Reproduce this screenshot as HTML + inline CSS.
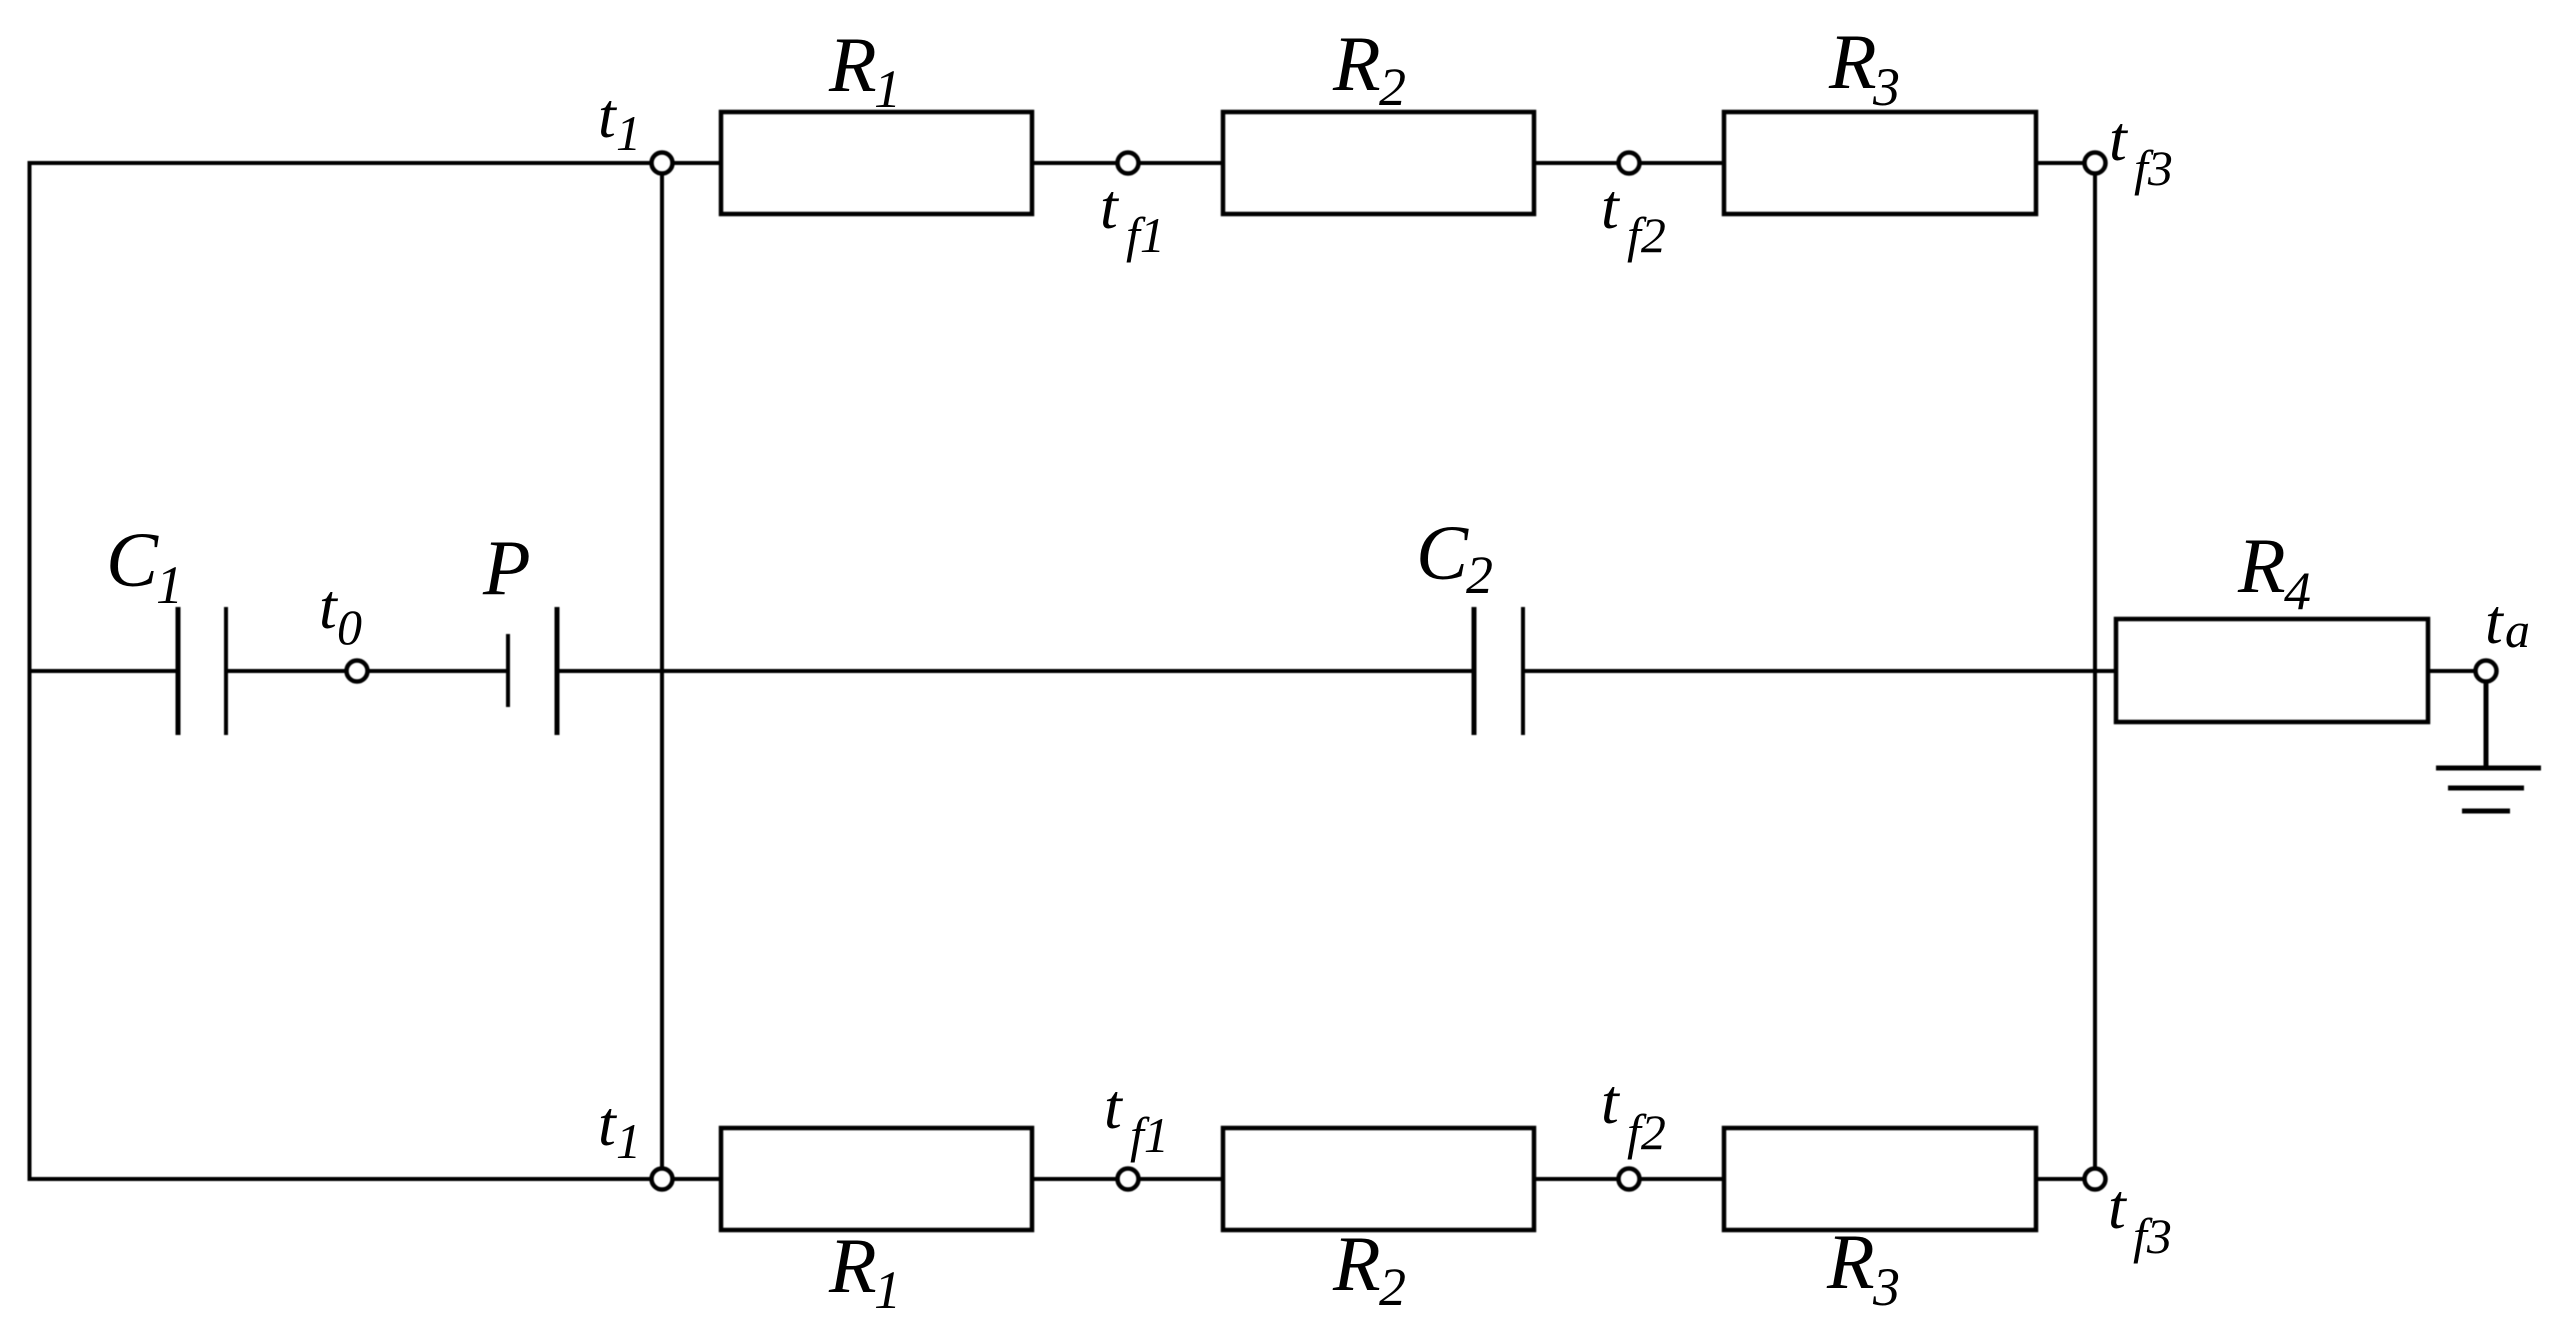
<!DOCTYPE html>
<html><head><meta charset="utf-8"><style>
html,body{margin:0;padding:0;background:#fff;width:2569px;height:1332px;overflow:hidden}
svg{display:block}
text{font-family:"Liberation Serif",serif;font-style:italic;fill:#000}
.m{font-size:78px}.t{font-size:64px}.s{font-size:54px}.u{font-size:50px}
</style></head><body>
<svg width="2569" height="1332" viewBox="0 0 2569 1332" xmlns="http://www.w3.org/2000/svg">
<rect width="2569" height="1332" fill="#fff"/>
<g stroke="#000" fill="none" stroke-width="4" style="filter:blur(0.6px)">
<path d="M662 163H29.5V1179H662M662 163V1179M2095 163V1179"/>
<path d="M662 163H721M1032 163H1223M1534 163H1724M2036 163H2095"/>
<path d="M662 1179H721M1032 1179H1223M1534 1179H1724M2036 1179H2095"/>
<path d="M29.5 671H178M226 671H508M557 671H1474M1523 671H2116M2428 671H2486"/>
<g stroke-width="4.5">
<rect x="721" y="112" width="311" height="102"/><rect x="1223" y="112" width="311" height="102"/><rect x="1724" y="112" width="312" height="102"/>
<rect x="721" y="1128" width="311" height="102"/><rect x="1223" y="1128" width="311" height="102"/><rect x="1724" y="1128" width="312" height="102"/>
<rect x="2116" y="619" width="312" height="103"/>
</g>
<path stroke-width="5" d="M178 607V735M557 607V735M1474 607V735"/>
<path stroke-width="4" d="M226 607V735M508 634V707M1523 607V735"/>
<path stroke-width="5" d="M2486 671V768M2436 768H2541M2448 788H2524M2462 811H2510"/>
<g fill="#fff" stroke-width="4.5">
<circle cx="662" cy="163" r="10.5"/><circle cx="1128" cy="163" r="10.5"/><circle cx="1629" cy="163" r="10.5"/><circle cx="2095" cy="163" r="10.5"/>
<circle cx="662" cy="1179" r="10.5"/><circle cx="1128" cy="1179" r="10.5"/><circle cx="1629" cy="1179" r="10.5"/><circle cx="2095" cy="1179" r="10.5"/>
<circle cx="357" cy="671" r="10.5"/><circle cx="2486" cy="671" r="10.5"/>
</g>
</g>
<text class="m" x="829" y="91">R</text><text class="s" x="874" y="107">1</text>
<text class="m" x="1333" y="90">R</text><text class="s" x="1379" y="105">2</text>
<text class="m" x="1829" y="88">R</text><text class="s" x="1873" y="105">3</text>
<text class="m" x="829" y="1292">R</text><text class="s" x="874" y="1308">1</text>
<text class="m" x="1333" y="1290">R</text><text class="s" x="1379" y="1305">2</text>
<text class="m" x="1827" y="1288">R</text><text class="s" x="1873" y="1305">3</text>
<text class="m" x="2238" y="592">R</text><text class="s" x="2284" y="609">4</text>
<text class="m" x="106" y="586">C</text><text class="s" x="156" y="603">1</text>
<text class="m" x="1416" y="579">C</text><text class="s" x="1466" y="593">2</text>
<text class="m" x="483" y="594">P</text>
<text class="t" x="598" y="137">t</text><text class="u" x="616" y="150">1</text>
<text class="t" x="598" y="1145">t</text><text class="u" x="616" y="1158">1</text>
<text class="t" x="319" y="628">t</text><text class="u" x="337" y="644">0</text>
<text class="t" x="2485" y="643">t</text><text class="u" x="2505" y="647">a</text>
<text class="t" x="1100" y="228">t</text><text class="u" x="1126" y="252">f1</text>
<text class="t" x="1601" y="228">t</text><text class="u" x="1627" y="252">f2</text>
<text class="t" x="2109" y="160">t</text><text class="u" x="2134" y="185">f3</text>
<text class="t" x="1104" y="1128">t</text><text class="u" x="1130" y="1152">f1</text>
<text class="t" x="1601" y="1123">t</text><text class="u" x="1627" y="1149">f2</text>
<text class="t" x="2108" y="1228">t</text><text class="u" x="2133" y="1253">f3</text>
</svg>
</body></html>
